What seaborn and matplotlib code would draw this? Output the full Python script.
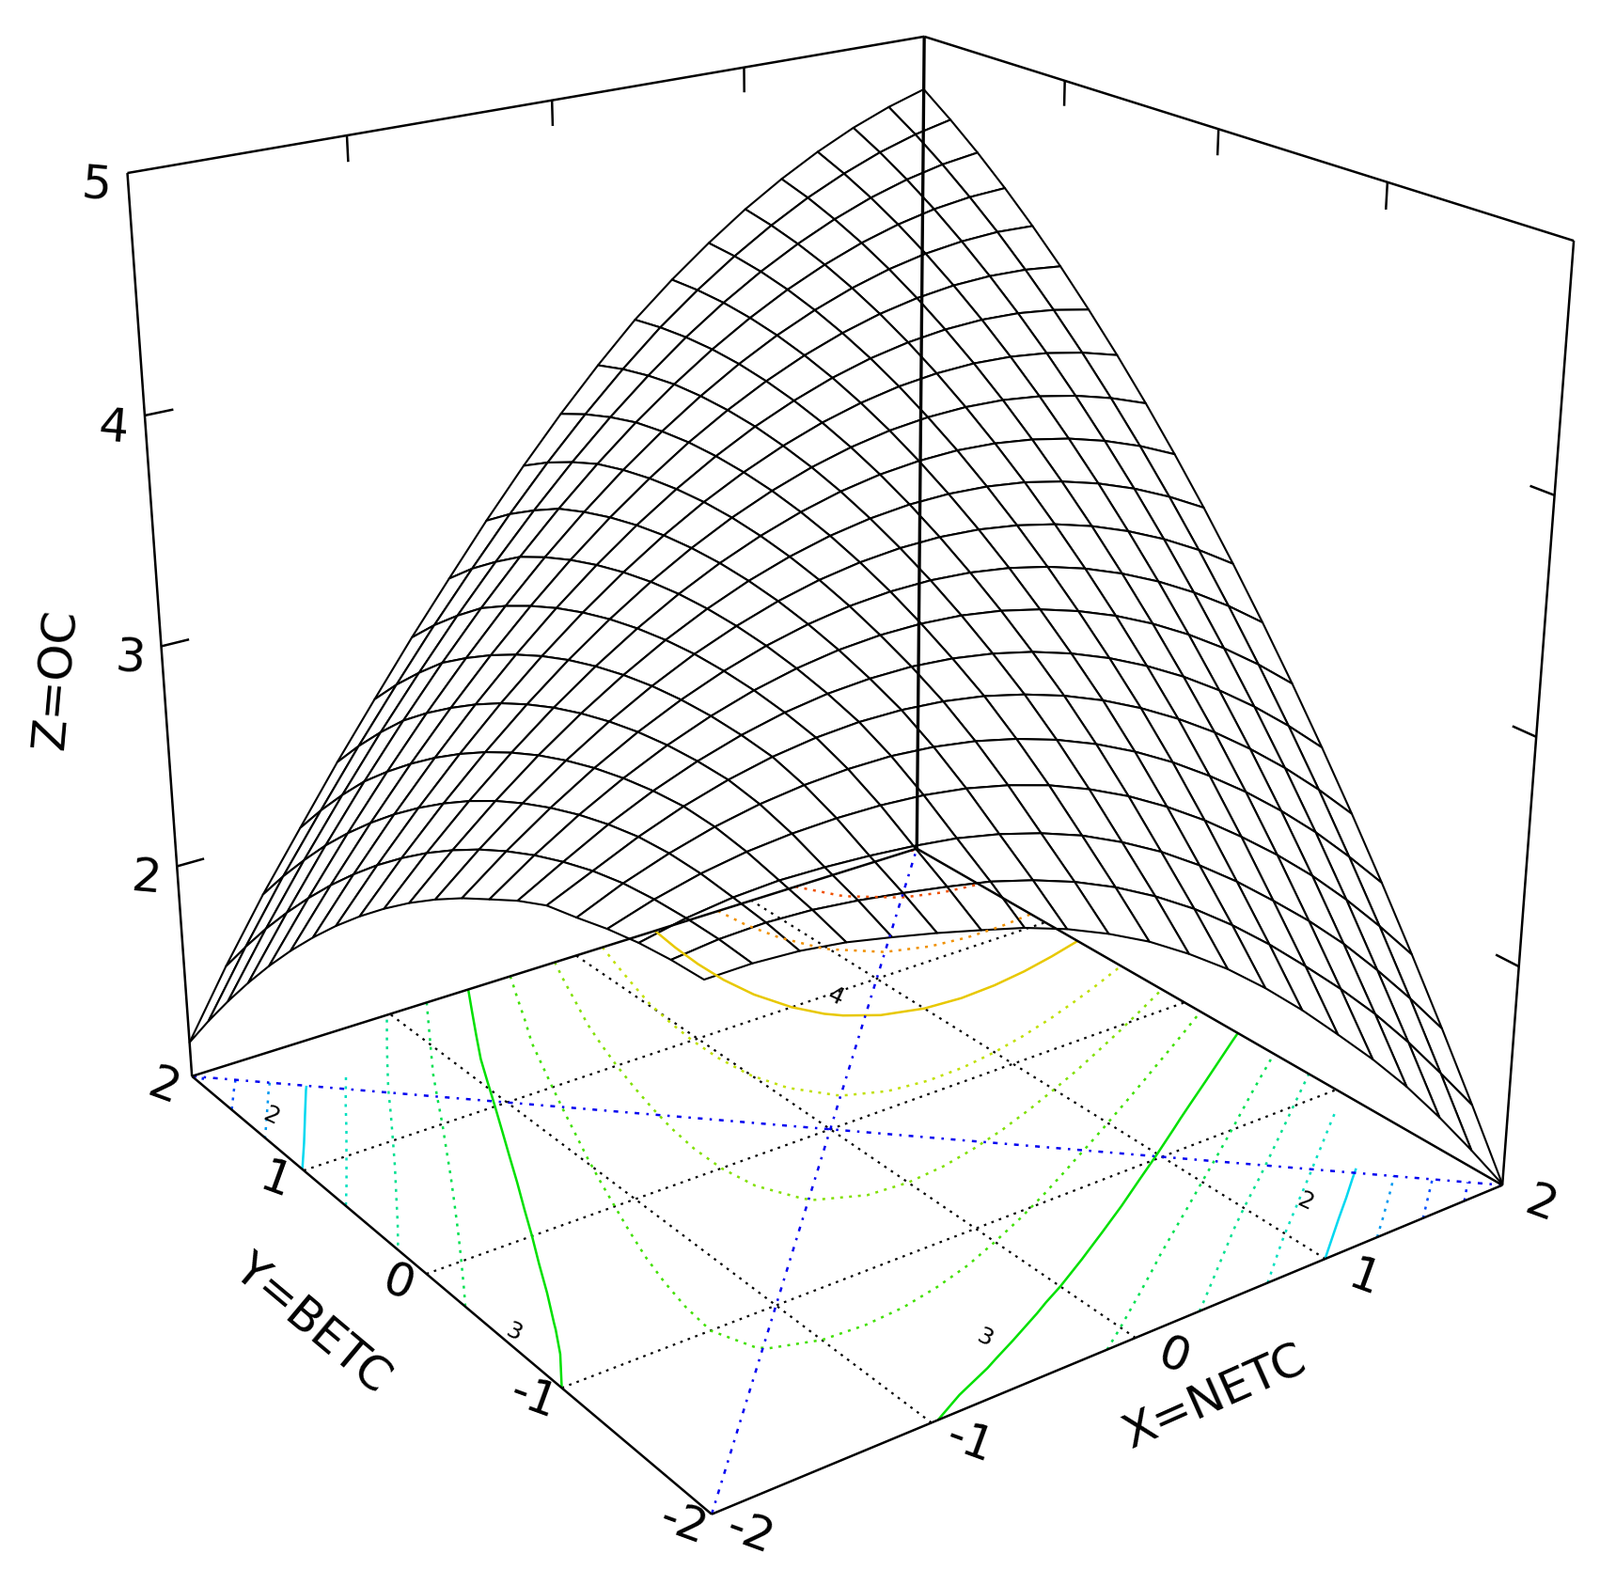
import numpy as np
import seaborn as sns
from matplotlib import pyplot as plt
from mpl_toolkits.mplot3d.art3d import Line3DCollection

W, H = 1702, 1686

grid_x = [-2.0, -1.8, -1.6, -1.4, -1.2, -1.0, -0.8, -0.6, -0.4, -0.2, 0.0, 0.2, 0.4, 0.6, 0.8, 1.0, 1.2, 1.4, 1.6, 1.8, 2.0]
grid_y = [-2.0, -1.8, -1.6, -1.4, -1.2, -1.0, -0.8, -0.6, -0.4, -0.2, 0.0, 0.2, 0.4, 0.6, 0.8, 1.0, 1.2, 1.4, 1.6, 1.8, 2.0]
z_values = [
    [3.120, 3.122, 3.111, 3.086, 3.048, 3.007, 2.961, 2.913, 2.851, 2.775, 2.686, 2.578, 2.457, 2.318, 2.165, 1.999, 1.829, 1.645, 1.443, 1.228, 1.004],
    [3.112, 3.132, 3.138, 3.130, 3.110, 3.083, 3.052, 3.017, 2.967, 2.905, 2.828, 2.735, 2.627, 2.502, 2.363, 2.211, 2.053, 1.883, 1.695, 1.492, 1.282],
    [3.095, 3.132, 3.155, 3.165, 3.161, 3.151, 3.135, 3.112, 3.075, 3.025, 2.962, 2.881, 2.787, 2.676, 2.552, 2.414, 2.270, 2.112, 1.936, 1.749, 1.550],
    [3.068, 3.125, 3.169, 3.199, 3.216, 3.223, 3.221, 3.209, 3.184, 3.145, 3.093, 3.025, 2.944, 2.847, 2.737, 2.613, 2.480, 2.334, 2.172, 1.996, 1.809],
    [3.032, 3.109, 3.171, 3.221, 3.257, 3.280, 3.292, 3.293, 3.279, 3.252, 3.211, 3.157, 3.089, 3.007, 2.911, 2.801, 2.680, 2.545, 2.397, 2.233, 2.059],
    [3.000, 3.080, 3.160, 3.227, 3.280, 3.320, 3.346, 3.359, 3.358, 3.344, 3.317, 3.275, 3.221, 3.153, 3.071, 2.976, 2.868, 2.745, 2.610, 2.461, 2.299],
    [2.940, 3.039, 3.134, 3.215, 3.282, 3.336, 3.377, 3.404, 3.417, 3.418, 3.404, 3.377, 3.337, 3.283, 3.216, 3.135, 3.041, 2.933, 2.812, 2.677, 2.529],
    [2.867, 2.989, 3.098, 3.193, 3.275, 3.343, 3.398, 3.439, 3.467, 3.481, 3.482, 3.470, 3.444, 3.404, 3.351, 3.285, 3.205, 3.111, 3.004, 2.884, 2.750],
    [2.793, 2.929, 3.052, 3.162, 3.258, 3.340, 3.409, 3.465, 3.507, 3.536, 3.551, 3.553, 3.541, 3.516, 3.477, 3.425, 3.359, 3.280, 3.187, 3.081, 2.961],
    [2.709, 2.860, 2.997, 3.121, 3.231, 3.328, 3.412, 3.481, 3.538, 3.581, 3.610, 3.626, 3.629, 3.618, 3.593, 3.555, 3.504, 3.439, 3.361, 3.269, 3.163],
    [2.616, 2.781, 2.933, 3.071, 3.195, 3.306, 3.404, 3.488, 3.559, 3.616, 3.660, 3.690, 3.707, 3.710, 3.700, 3.677, 3.639, 3.589, 3.525, 3.447, 3.356],
    [2.513, 2.693, 2.859, 3.011, 3.150, 3.275, 3.387, 3.486, 3.571, 3.642, 3.700, 3.745, 3.776, 3.793, 3.798, 3.788, 3.765, 3.729, 3.679, 3.616, 3.539],
    [2.401, 2.595, 2.775, 2.942, 3.095, 3.235, 3.361, 3.474, 3.573, 3.659, 3.731, 3.790, 3.835, 3.867, 3.885, 3.890, 3.882, 3.860, 3.824, 3.775, 3.713],
    [2.280, 2.488, 2.682, 2.863, 3.031, 3.185, 3.325, 3.452, 3.566, 3.666, 3.752, 3.825, 3.885, 3.931, 3.964, 3.983, 3.989, 3.981, 3.960, 3.925, 3.877],
    [2.149, 2.371, 2.580, 2.775, 2.957, 3.125, 3.280, 3.421, 3.549, 3.663, 3.764, 3.852, 3.925, 3.986, 4.033, 4.066, 4.086, 4.093, 4.086, 4.065, 4.031],
    [2.009, 2.245, 2.468, 2.677, 2.873, 3.056, 3.225, 3.381, 3.523, 3.651, 3.767, 3.868, 3.956, 4.031, 4.092, 4.140, 4.174, 4.195, 4.202, 4.196, 4.177],
    [1.859, 2.109, 2.347, 2.570, 2.781, 2.977, 3.161, 3.331, 3.487, 3.630, 3.759, 3.875, 3.978, 4.067, 4.142, 4.204, 4.253, 4.288, 4.309, 4.318, 4.312],
    [1.699, 1.964, 2.216, 2.454, 2.678, 2.889, 3.087, 3.271, 3.442, 3.599, 3.743, 3.873, 3.990, 4.093, 4.183, 4.259, 4.322, 4.371, 4.407, 4.429, 4.438],
    [1.530, 1.810, 2.072, 2.319, 2.555, 2.777, 2.989, 3.187, 3.375, 3.550, 3.711, 3.858, 3.992, 4.110, 4.214, 4.304, 4.381, 4.445, 4.495, 4.532, 4.555],
    [1.352, 1.645, 1.920, 2.174, 2.421, 2.655, 2.881, 3.094, 3.299, 3.491, 3.669, 3.834, 3.985, 4.117, 4.235, 4.340, 4.432, 4.509, 4.574, 4.625, 4.662],
    [1.164, 1.472, 1.756, 2.017, 2.275, 2.519, 2.759, 2.986, 3.209, 3.419, 3.616, 3.799, 3.969, 4.115, 4.247, 4.367, 4.472, 4.564, 4.643, 4.708, 4.760],
]

levels = [1.25, 1.5, 1.75, 2.0, 2.25, 2.5, 2.75, 3.0, 3.25, 3.5, 3.75, 4.0, 4.25, 4.5, 4.75]
level_colors = ['#0020ff', '#0050ff', '#0098f0', '#00d8f0', '#00e0c0', '#00e090', '#00e050', '#00e000',
                '#40e000', '#80e000', '#c0e000', '#e8c800', '#f09000', '#f05000', '#f01000']
xy_ticks = [-2, -1, 0, 1, 2]
inner_ticks = [-1, 0, 1]
z_ticks = [2, 3, 4, 5]
contour_labels = [('2', 288, 1187), ('2', 1388, 1278), ('3', 1047, 1423), ('3', 546, 1417), ('4', 889, 1060)]

sns.set_style("white")

# camera taken from where the cube corners sit in the picture
corners = [(-2, 2, 5), (2, 2, 5), (2, -2, 5), (-2, 2, 1), (2, 2, 1), (2, -2, 1), (-2, -2, 1)]
corner_px = [(133.5, 183), (986.7, 40.7), (1672, 255), (206, 1148), (972, 899), (1600, 1264), (757, 1608)]
rows = []
for (a, b, c), (px, py) in zip(corners, corner_px):
    py = H - py
    rows.append([a, b, c, 1, 0, 0, 0, 0, -px * a, -px * b, -px * c, -px])
    rows.append([0, 0, 0, 0, a, b, c, 1, -py * a, -py * b, -py * c, -py])
P = np.linalg.svd(np.array(rows))[2][-1].reshape(3, 4)
P = P / (P[2] @ np.array([0, 0, 1, 1]))
M = np.vstack([P[0], P[1], [0, 0, 0, -1], P[2]])

X, Y = np.meshgrid(grid_x, grid_y)
Z = np.array(z_values)

fig = plt.figure(figsize=(W / 100, H / 100), dpi=100)
ax = fig.add_axes([0, 0, 1, 1], projection='3d', computed_zorder=False)
ax.set_axis_off()
ax.get_proj = lambda: M
ax.viewLim.intervalx = (8, 1694)
ax.viewLim.intervaly = (0, 1686)

ax.plot_surface(X, Y, Z, rstride=1, cstride=1, color='white', edgecolor='black', linewidth=1.5, shade=False, zorder=1)

# the low contours stop near the x=-y diagonal in the original
dot = (0, (1.2, 2.6))
styles = ['solid' if l == int(l) else dot for l in levels]
Z_floor = np.ma.masked_where((X + Y > 0.1) & (abs(X - Y) > 3), Z)
ax.contour(X, Y, Z_floor, levels=levels, zdir='z', offset=1, colors=level_colors, linestyles=styles, linewidths=1.8, zorder=3)


def add_lines(segs, **kw):
    ax.add_collection3d(Line3DCollection(segs, **kw))


def to_px(a, b, c):
    q = M @ np.array([a, b, c, 1])
    return q[0] / q[3], q[1] / q[3]


def tick_label(a, b, c, dx, dy, text, rot):
    x0, y0 = to_px(a, b, c)
    ax.text2D(x0 + dx, y0 - dy, text, transform=ax.transData, fontsize=36, rotation=rot, ha='center', va='center', color='black')


add_lines([[(g, -2, 1), (g, 2, 1)] for g in inner_ticks] + [[(-2, g, 1), (2, g, 1)] for g in inner_ticks],
          colors='black', linewidths=1.6, linestyles=dot, zorder=2)
add_lines([[(-2, -2, 1), (2, 2, 1)], [(-2, 2, 1), (2, -2, 1)]], colors='#0000f0', linewidths=1.8, linestyles=(0, (2, 3, 1, 3)), zorder=4)

box = [[(-2, 2, 1), (2, 2, 1)], [(2, 2, 1), (2, -2, 1)], [(2, -2, 1), (-2, -2, 1)], [(-2, -2, 1), (-2, 2, 1)],
       [(-2, 2, 1), (-2, 2, 5)], [(2, -2, 1), (2, -2, 5)],
       [(-2, 2, 5), (2, 2, 5)], [(2, 2, 5), (2, -2, 5)]]
ticks = [[(t, 2, 5), (t, 2, 4.89)] for t in inner_ticks] + [[(2, t, 5), (2, t, 4.89)] for t in inner_ticks]
ticks += [[(-2, 2, t), (-1.87, 2, t)] for t in z_ticks[:-1]] + [[(2, -2, t), (2, -1.87, t)] for t in z_ticks[:-1]]
add_lines(box + ticks, colors='black', linewidths=1.8, zorder=5)
add_lines([[(2, 2, 1), (2, 2, 5)]], colors='black', linewidths=2.4, zorder=5)

for t in xy_ticks:
    tick_label(t, -2, 1, 41, 21, str(t), -20)
    tick_label(-2, t, 1, -30, 11, str(t), -20)
for t in z_ticks:
    tick_label(-2, 2, t, -33, 13, str(t), -5)
for text, x0, y0 in contour_labels:
    ax.text2D(x0, H - y0, text, transform=ax.transData, fontsize=18, rotation=-25, ha='center', va='center', color='black')

fig.text(60 / W, 1 - 722 / H, 'Z=OC', fontsize=36, rotation=85, ha='center', va='center', color='black')
fig.text(331 / W, 1 - 1408 / H, 'Y=BETC', fontsize=36, rotation=-40, ha='center', va='center', color='black')
fig.text(1292 / W, 1 - 1487 / H, 'X=NETC', fontsize=36, rotation=24, ha='center', va='center', color='black')

fig.savefig('out.png', dpi=100)
